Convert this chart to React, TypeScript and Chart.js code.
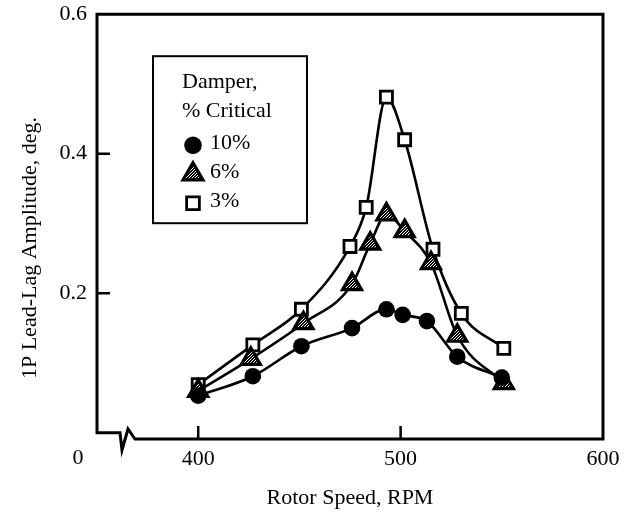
import React, { useEffect, useRef } from 'react';
import { Chart, registerables } from 'chart.js';

Chart.register(...registerables);

// ---------- data ----------
const seriesLabels = ['10%', '6%', '3%'];
const seriesStyles = ['circle', 'triangle', 'rect'];

const rpm10 = [400, 427, 451, 476, 493, 501, 513, 528, 550];
const amp10 = [0.053, 0.081, 0.124, 0.150, 0.177, 0.169, 0.160, 0.109, 0.079];

const rpm6 = [400, 426, 452, 476, 485, 493, 502, 515, 528, 551];
const amp6 = [0.060, 0.106, 0.157, 0.213, 0.271, 0.313, 0.289, 0.243, 0.139, 0.071];

const rpm3 = [400, 427, 451, 475, 483, 493, 502, 516, 530, 551];
const amp3 = [0.069, 0.126, 0.177, 0.267, 0.323, 0.481, 0.420, 0.263, 0.171, 0.121];

const xTicks = [400, 500, 600];
const yTicks = [0.2, 0.4, 0.6];
const xOriginLabel = '0';
const xTitle = 'Rotor Speed, RPM';
const yTitle = '1P Lead-Lag Amplitude, deg.';
const legendTitle = ['Damper,', '% Critical'];

const FONT = "'Liberation Serif', 'Times New Roman', serif";

function makePattern(): CanvasPattern | string {
  const c = document.createElement('canvas');
  c.width = 3;
  c.height = 3;
  const g = c.getContext('2d');
  if (!g) return '#444';
  g.fillStyle = '#000';
  g.fillRect(0, 0, 3, 3);
  g.fillStyle = '#fff';
  g.fillRect(0, 0, 1, 1);
  g.fillRect(2, 1, 1, 1);
  g.fillRect(1, 2, 1, 1);
  return g.createPattern(c, 'repeat') || '#444';
}

function toPoints(xs: number[], ys: number[]) {
  return xs.map((x, i) => ({ x, y: ys[i] }));
}

function drawMarker(ctx: CanvasRenderingContext2D, style: string, x: number, y: number, r: number, fill: any, bw: number) {
  ctx.beginPath();
  if (style === 'circle') {
    ctx.arc(x, y, r, 0, Math.PI * 2);
  } else if (style === 'triangle') {
    let rad = 0;
    ctx.moveTo(x + Math.sin(rad) * r, y - Math.cos(rad) * r);
    rad += (2 * Math.PI) / 3;
    ctx.lineTo(x + Math.sin(rad) * r, y - Math.cos(rad) * r);
    rad += (2 * Math.PI) / 3;
    ctx.lineTo(x + Math.sin(rad) * r, y - Math.cos(rad) * r);
    ctx.closePath();
  } else {
    const s = Math.SQRT1_2 * r;
    ctx.rect(x - s, y - s, 2 * s, 2 * s);
  }
  ctx.fillStyle = fill;
  ctx.fill();
  if (bw > 0) {
    ctx.lineWidth = bw;
    ctx.strokeStyle = '#000';
    ctx.stroke();
  }
}

const framePlugin = {
  id: 'frame',
  afterDraw(chart: any) {
    const { ctx, chartArea } = chart;
    const { left, right, top, bottom } = chartArea;
    const xs = chart.scales.x;
    const ys = chart.scales.y;
    const y0 = ys.getPixelForValue(0);
    ctx.save();
    ctx.strokeStyle = '#000';
    ctx.lineWidth = 3;
    ctx.lineJoin = 'miter';
    ctx.beginPath();
    ctx.moveTo(left, top);
    ctx.lineTo(right, top);
    ctx.lineTo(right, bottom);
    ctx.lineTo(left + 38, bottom);
    ctx.lineTo(left + 31, bottom - 10);
    ctx.lineTo(left + 25, bottom + 11);
    ctx.lineTo(left + 23, y0);
    ctx.lineTo(left, y0);
    ctx.closePath();
    ctx.stroke();

    // inward tick marks
    ctx.lineWidth = 2.5;
    ctx.beginPath();
    ys.ticks.forEach((t: any) => {
      if (t.value >= ys.max) return;
      const p = ys.getPixelForValue(t.value);
      ctx.moveTo(left, p);
      ctx.lineTo(left + 13, p);
    });
    xs.ticks.forEach((t: any) => {
      if (t.value >= xs.max) return;
      const p = xs.getPixelForValue(t.value);
      ctx.moveTo(p, bottom);
      ctx.lineTo(p, bottom - 13);
    });
    ctx.stroke();

    // origin label and y title
    ctx.fillStyle = '#000';
    ctx.font = `22px ${FONT}`;
    ctx.textAlign = 'center';
    ctx.textBaseline = 'middle';
    ctx.fillText(xOriginLabel, left - 19, bottom + 19);

    ctx.translate(30, 248);
    ctx.rotate(-Math.PI / 2);
    ctx.fillText(yTitle, 0, 0);
    ctx.restore();

    // legend
    ctx.save();
    const bx = left + 56;
    const by = top + 42;
    ctx.fillStyle = '#fff';
    ctx.fillRect(bx, by, 154, 167);
    ctx.lineWidth = 2;
    ctx.strokeStyle = '#000';
    ctx.strokeRect(bx, by, 154, 167);
    ctx.fillStyle = '#000';
    ctx.font = `22px ${FONT}`;
    ctx.textAlign = 'left';
    ctx.textBaseline = 'alphabetic';
    legendTitle.forEach((t, i) => ctx.fillText(t, left + 85, top + 74 + i * 29));
    chart.data.datasets.forEach((ds: any, i: number) => {
      const cy = top + 131 + i * 29;
      drawMarker(ctx, ds.pointStyle, left + 96, cy, ds.pointRadius + 0.5, ds.pointBackgroundColor, ds.pointBorderWidth);
      ctx.fillStyle = '#000';
      ctx.textBaseline = 'middle';
      ctx.fillText(ds.label, left + 113, cy - 2);
    });
    ctx.restore();
  },
};

export default function App() {
  const canvasRef = useRef<HTMLCanvasElement | null>(null);

  useEffect(() => {
    if (!canvasRef.current) return;
    const pattern = makePattern();
    const xsData = [rpm10, rpm6, rpm3];
    const ysData = [amp10, amp6, amp3];
    const fills = ['#000', pattern, '#fff'];
    const radii = [8.3, 11, 8.5];
    const borders = [0, 3.2, 2.8];

    const chart = new Chart(canvasRef.current, {
      type: 'line',
      data: {
        datasets: seriesLabels.map((label, i) => ({
          label,
          data: toPoints(xsData[i], ysData[i]),
          borderColor: '#000',
          borderWidth: 2.6,
          cubicInterpolationMode: 'monotone',
          pointStyle: seriesStyles[i],
          pointRadius: radii[i],
          pointBackgroundColor: fills[i],
          pointBorderColor: '#000',
          pointBorderWidth: borders[i],
          fill: false,
        })) as any,
      },
      options: {
        animation: false,
        responsive: false,
        devicePixelRatio: 1,
        events: [],
        layout: { padding: { top: 13, right: 34, left: 0, bottom: 0 } },
        plugins: { legend: { display: false }, tooltip: { enabled: false } },
        scales: {
          x: {
            type: 'linear',
            min: 350,
            max: 600,
            grid: { display: false, drawTicks: false },
            border: { display: false },
            afterBuildTicks: (s: any) => {
              s.ticks = xTicks.map((v) => ({ value: v }));
            },
            afterFit: (s: any) => {
              s.height = 86;
              s.paddingLeft = 0;
              s.paddingRight = 0;
            },
            ticks: {
              color: '#000',
              padding: 7,
              maxRotation: 0,
              font: { family: FONT, size: 22 },
              callback: (v: any) => String(v),
            },
            title: {
              display: true,
              text: xTitle,
              color: '#000',
              font: { family: FONT, size: 22 },
              padding: { bottom: 14 },
            },
          },
          y: {
            type: 'linear',
            min: -0.009,
            max: 0.6,
            grid: { display: false, drawTicks: false },
            border: { display: false },
            afterBuildTicks: (s: any) => {
              s.ticks = yTicks.map((v) => ({ value: v }));
            },
            afterFit: (s: any) => {
              s.width = 97;
              s.paddingTop = 0;
              s.paddingBottom = 0;
            },
            ticks: {
              color: '#000',
              padding: 10,
              font: { family: FONT, size: 22 },
              callback: (v: any) => Number(v).toFixed(1),
            },
          },
        },
      } as any,
      plugins: [framePlugin],
    });
    return () => chart.destroy();
  }, []);

  return (
    <div style={{ position: 'fixed', left: 0, top: 0, width: 637, height: 525, background: '#fff' }}>
      <canvas ref={canvasRef} width={637} height={525} style={{ display: 'block' }} />
    </div>
  );
}
